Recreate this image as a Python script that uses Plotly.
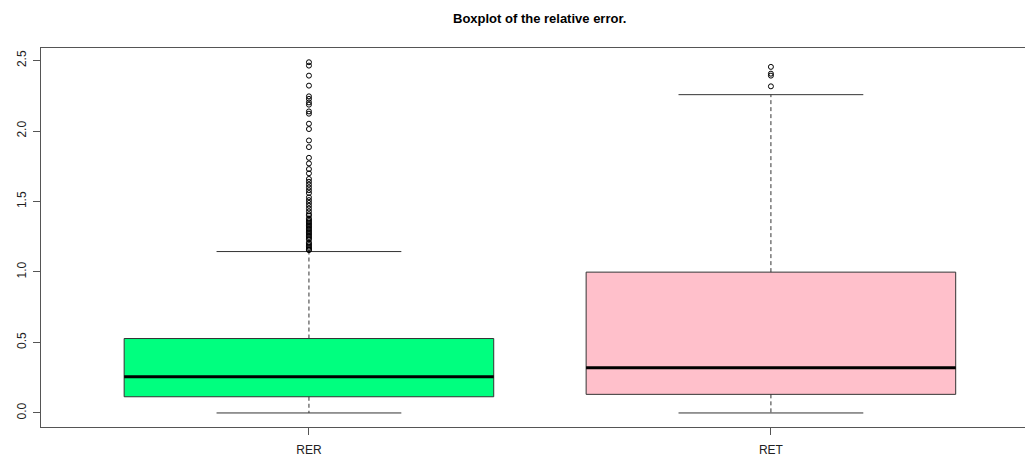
import plotly.graph_objects as go

# ---- data ----
categories = ["RER", "RET"]
positions = [1, 2]
box_colors = ["#00FF7F", "#FFC0CB"]
q1 = [0.115, 0.132]
median = [0.257, 0.320]
q3 = [0.528, 0.999]
lower_whisker = [0.0, 0.0]
upper_whisker = [1.145, 2.258]

rer_outliers = [2.488, 2.464, 2.393, 2.322, 2.246, 2.228, 2.203, 2.187, 2.139, 2.123,
                2.052, 2.014, 1.933, 1.886, 1.81, 1.77, 1.73, 1.70, 1.66, 1.64, 1.62,
                1.60, 1.58, 1.56, 1.53, 1.51, 1.49, 1.47, 1.45, 1.43, 1.41, 1.40, 1.38,
                1.37, 1.36, 1.35, 1.34, 1.33, 1.32, 1.31, 1.30, 1.29, 1.28, 1.27, 1.26,
                1.25, 1.24, 1.23, 1.21, 1.20, 1.19, 1.18, 1.17, 1.16, 1.155]
ret_outliers = [2.455, 2.407, 2.393, 2.317]
outliers = [rer_outliers, ret_outliers]

y_ticks = [0.0, 0.5, 1.0, 1.5, 2.0, 2.5]
y_tick_text = ["0.0", "0.5", "1.0", "1.5", "2.0", "2.5"]
title_text = "Boxplot of the relative error."

box_width = 0.8
staple_half = box_width / 4
line_col = "#333333"

fig = go.Figure()

for i, cat in enumerate(categories):
    x0 = positions[i]
    # box body (no whiskers: fences at the quartiles)
    fig.add_trace(go.Box(
        x=[x0], q1=[q1[i]], median=[median[i]], q3=[q3[i]],
        lowerfence=[q1[i]], upperfence=[q3[i]],
        width=box_width, fillcolor=box_colors[i],
        line=dict(color=line_col, width=1), whiskerwidth=0,
        boxpoints=False, showlegend=False, hoverinfo="skip", name=cat))
    # thick median
    fig.add_trace(go.Scatter(
        x=[x0 - box_width / 2, x0 + box_width / 2], y=[median[i], median[i]],
        mode="lines", line=dict(color="black", width=3), showlegend=False, hoverinfo="skip"))
    # dashed whiskers
    for a, b in [(q3[i], upper_whisker[i]), (q1[i], lower_whisker[i])]:
        fig.add_trace(go.Scatter(
            x=[x0, x0], y=[a, b], mode="lines",
            line=dict(color=line_col, width=1, dash="4px,3px"),
            showlegend=False, hoverinfo="skip"))
    # staples
    for w in [upper_whisker[i], lower_whisker[i]]:
        fig.add_trace(go.Scatter(
            x=[x0 - staple_half, x0 + staple_half], y=[w, w], mode="lines",
            line=dict(color=line_col, width=1), showlegend=False, hoverinfo="skip"))
    # outliers
    fig.add_trace(go.Scatter(
        x=[x0] * len(outliers[i]), y=outliers[i], mode="markers",
        marker=dict(symbol="circle-open", size=5, color="black", line=dict(width=1)),
        showlegend=False, hoverinfo="skip"))

fig.add_annotation(
    x=1.5, xref="x", y=1.079, yref="paper", text="<b>" + title_text + "</b>",
    showarrow=False, font=dict(family="Liberation Sans, Arial", size=13, color="black"),
    xanchor="center", yanchor="middle")

fig.update_layout(
    width=1025, height=459,
    margin=dict(l=41, r=0, t=48, b=32, autoexpand=False),
    plot_bgcolor="white", paper_bgcolor="white",
    font=dict(family="Liberation Sans, Arial", size=12, color="#222222"),
    xaxis=dict(range=[0.42, 2.55], tickvals=positions, ticktext=categories,
               showgrid=False, zeroline=False, showline=True, mirror=True,
               linecolor="#555555", linewidth=1, ticks="outside", ticklen=7,
               tickcolor="#555555", automargin=False, ticklabelstandoff=5),
    yaxis=dict(range=[-0.0996, 2.589], tickvals=y_ticks, ticktext=y_tick_text,
               tickangle=-90, showgrid=False, zeroline=False, showline=True,
               linecolor="#555555", linewidth=1, ticks="outside", ticklen=7,
               tickcolor="#555555", automargin=False, ticklabelstandoff=2),
)

fig.write_html(
    "out.html",
    config={"displayModeBar": False},
    post_script="document.body.style.margin='0';document.body.style.overflow='hidden';",
)
